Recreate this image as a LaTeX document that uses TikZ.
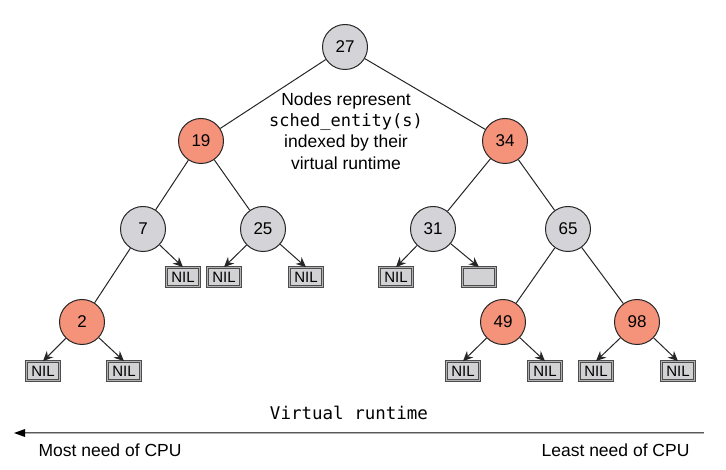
\documentclass[tikz,border=0pt]{standalone}
\usepackage{fontspec}
\setmainfont{Liberation Sans}
\newfontfamily\monof{DejaVu Sans Mono}
\usetikzlibrary{arrows.meta}
\definecolor{nodegray}{RGB}{212,212,216}
\definecolor{nodered}{RGB}{244,146,122}
\definecolor{boxgray}{RGB}{210,210,212}
\tikzset{
  tnode/.style={circle,draw=black!85,line width=1pt,minimum size=45pt,inner sep=0pt,font=\fontsize{17}{18}\selectfont},
  gnode/.style={tnode,fill=nodegray},
  rnode/.style={tnode,fill=nodered},
  nilbox/.style={rectangle,draw=black!70,line width=0.7pt,double=black!30,double distance=0.7pt,fill=boxgray,minimum width=33pt,minimum height=19pt,inner sep=0pt,font=\fontsize{15}{16}\selectfont},
  edge/.style={line width=1pt,black!85},
  nilarrow/.style={line width=1pt,black!85,-{Stealth[length=10pt,width=9pt]}},
  txt/.style={font=\fontsize{17.5}{21.3}\selectfont},
}
\begin{document}
\begin{tikzpicture}[x=1pt,y=-1pt]
\useasboundingbox (0,0) rectangle (726,470);
% tree nodes
\node[gnode] (n27) at (345,47) {27};
\node[rnode] (n19) at (201,141) {19};
\node[rnode] (n34) at (505,141) {34};
\node[gnode] (n7) at (143,229) {7};
\node[gnode] (n25) at (263,229) {25};
\node[gnode] (n31) at (433,229) {31};
\node[gnode] (n65) at (568,229) {65};
\node[rnode] (n2) at (82,322) {2};
\node[rnode] (n49) at (503,322) {49};
\node[rnode] (n98) at (637,322) {98};
% NIL boxes
\node[nilbox] (b7r) at (183,277) {NIL};
\node[nilbox] (b25l) at (224,277) {NIL};
\node[nilbox] (b25r) at (306,277) {NIL};
\node[nilbox] (b31l) at (396,277) {NIL};
\node[nilbox] (b31r) at (479,277) {};
\node[nilbox] (b2l) at (43,371) {NIL};
\node[nilbox] (b2r) at (124,371) {NIL};
\node[nilbox] (b49l) at (463,371) {NIL};
\node[nilbox] (b49r) at (545,371) {NIL};
\node[nilbox] (b98l) at (596,371) {NIL};
\node[nilbox] (b98r) at (678,371) {NIL};
% edges
\draw[edge] (n27) -- (n19);
\draw[edge] (n27) -- (n34);
\draw[edge] (n19) -- (n7);
\draw[edge] (n19) -- (n25);
\draw[edge] (n7) -- (n2);
\draw[edge] (n34) -- (n31);
\draw[edge] (n34) -- (n65);
\draw[edge] (n65) -- (n49);
\draw[edge] (n65) -- (n98);
% NIL arrows
\draw[nilarrow] (n7) -- (b7r.north);
\draw[nilarrow] (n25) -- (b25l.north);
\draw[nilarrow] (n25) -- (b25r.north);
\draw[nilarrow] (n31) -- (b31l.north);
\draw[nilarrow] (n31) -- (b31r.north);
\draw[nilarrow] (n2) -- (b2l.north);
\draw[nilarrow] (n2) -- (b2r.north);
\draw[nilarrow] (n49) -- (b49l.north);
\draw[nilarrow] (n49) -- (b49r.north);
\draw[nilarrow] (n98) -- (b98l.north);
\draw[nilarrow] (n98) -- (b98r.north);
% description
\node[align=center,txt] (desc) at (346,131)
  {Nodes represent\\{\monof\fontsize{17}{21.3}\selectfont sched\_entity(s)}\\indexed by their\\virtual runtime};
% axis
\node[font=\monof\fontsize{17.5}{18}\selectfont] (vr) at (349,413) {Virtual runtime};
\coordinate (axR) at (704,433);
\coordinate (axL) at (14,433);
\draw[draw=black!65,double=black!30,double distance=0.9pt,line width=0.7pt] (axR) -- ([xshift=6pt]axL);
\fill[black] (axL) -- ++(11,-4) -- ++(0,8) -- cycle;
\node[anchor=west,txt] (most) at (35,450) {Most need of CPU};
\node[anchor=east,txt] (least) at (693,450) {Least need of CPU};
\end{tikzpicture}
\end{document}
